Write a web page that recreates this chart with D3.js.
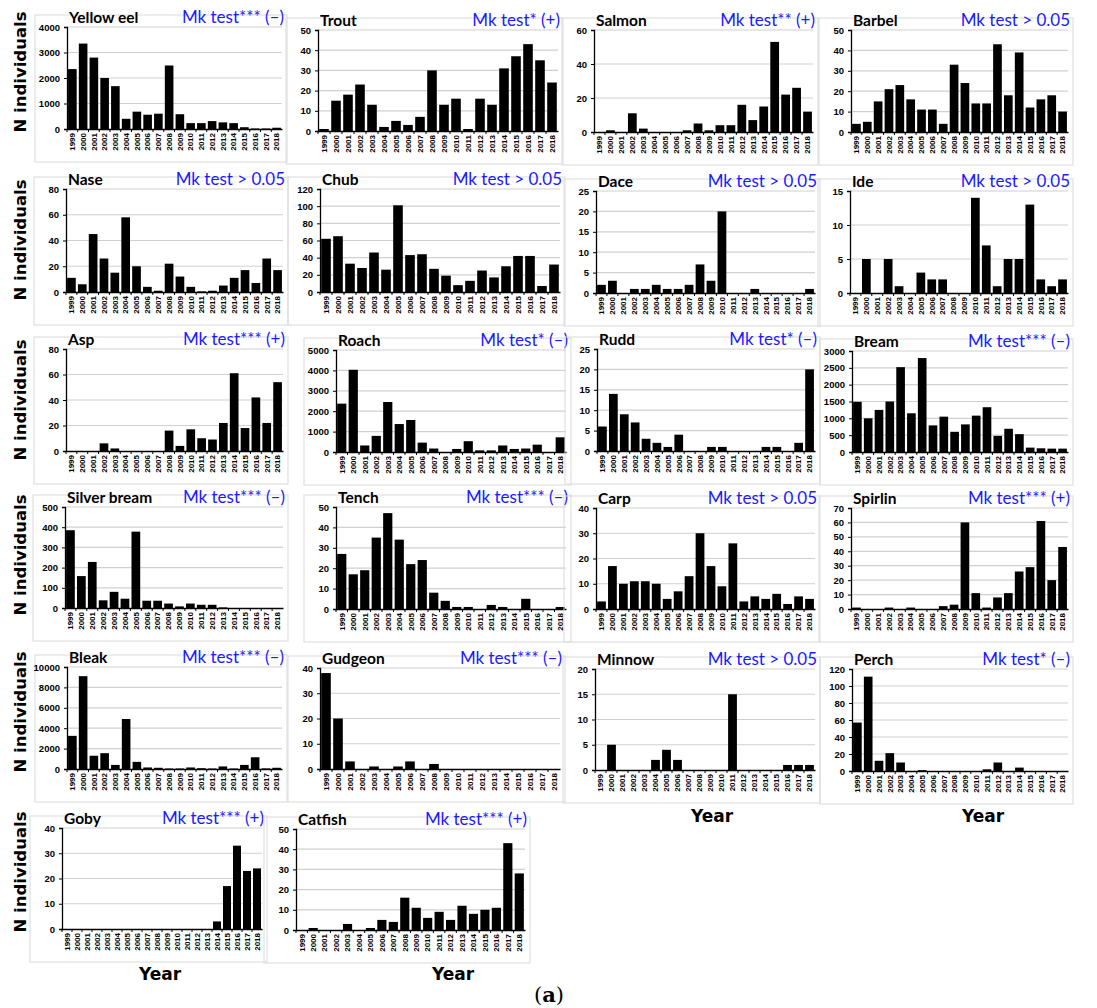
<!DOCTYPE html>
<html>
<head>
<meta charset="utf-8">
<script src="https://cdn.jsdelivr.net/npm/d3@7"></script>
<style>
  body { margin: 0; background: #fff; }
</style>
</head>
<body>
<div id="chart"></div>
<script>
// years on every x axis
const years = ['1999', '2000', '2001', '2002', '2003', '2004', '2005', '2006', '2007', '2008',
  '2009', '2010', '2011', '2012', '2013', '2014', '2015', '2016', '2017', '2018'];

// counts per species, 1999..2018
const yellowEel = [2350, 3350, 2800, 2000, 1680, 400, 680, 560, 600, 2490, 580, 230, 230, 310, 260, 230, 70, 20, 20, 50];
const trout = [1, 15, 18, 23, 13, 2, 5, 3, 7, 30, 13, 16, 1, 16, 13, 31, 37, 43, 35, 24];
const salmon = [0, 1, 0, 11, 2, 0, 0, 0, 1, 5, 1, 4, 4, 16, 7, 15, 53, 22, 26, 12];
const barbel = [4, 5, 15, 21, 23, 16, 11, 11, 4, 33, 24, 14, 14, 43, 18, 39, 12, 16, 18, 10];
const nase = [11, 6, 45, 26, 15, 58, 20, 4, 1, 22, 12, 4, 0.5, 1, 5, 11, 17, 7, 26, 17];
const chub = [62, 65, 33, 28, 46, 26, 101, 43, 44, 27, 19, 8, 13, 25, 17, 30, 42, 42, 7, 32];
const dace = [2, 3, 0, 1, 1, 2, 1, 1, 2, 7, 3, 20, 0, 0, 1, 0, 0, 0, 0, 1];
const ide = [0, 5, 0, 5, 1, 0, 3, 2, 2, 0, 0, 14, 7, 1, 5, 5, 13, 2, 1, 2];
const asp = [0, 0, 0, 6, 2, 0, 0, 0, 0, 16, 4, 17, 10, 9, 22, 61, 18, 42, 22, 54];
const roach = [2370, 4030, 320, 790, 2450, 1370, 1570, 460, 170, 0, 150, 530, 80, 80, 320, 150, 170, 360, 0, 720];
const rudd = [6, 14, 9, 7, 3, 2, 1, 4, 0, 0, 1, 1, 0, 0, 0, 1, 1, 0, 2, 20];
const bream = [1490, 1000, 1250, 1500, 2520, 1150, 2790, 790, 1050, 600, 820, 1080, 1330, 480, 690, 530, 130, 110, 100, 100];
const silverBream = [385, 158, 228, 38, 80, 46, 378, 36, 36, 22, 8, 22, 16, 16, 3, 0, 0, 0, 0, 0];
const tench = [27, 17, 19, 35, 47, 34, 22, 24, 8, 4, 1, 1, 0, 2, 1, 0, 5, 0, 0, 1];
const carp = [3, 17, 10, 11, 11, 10, 4, 7, 13, 30, 17, 9, 26, 3, 5, 4, 6, 2, 5, 4];
const spirlin = [1, 0, 0, 1, 0, 1, 0, 0, 2, 3, 60, 11, 1, 8, 11, 26, 29, 61, 20, 43];
const bleak = [3250, 9100, 1300, 1550, 400, 4900, 700, 150, 120, 50, 50, 150, 80, 50, 250, 50, 400, 1150, 60, 120];
const gudgeon = [38, 20, 3, 0, 1, 0, 1, 3, 0, 2, 0, 0, 0, 0, 0, 0, 0, 0, 0, 0];
const minnow = [0, 5, 0, 0, 0, 2, 4, 2, 0, 0, 0, 0, 15, 0, 0, 0, 0, 1, 1, 1];
const perch = [57, 111, 12, 21, 10, 0, 1, 0, 0, 0, 0, 0, 2, 10, 0, 4, 0, 0, 0, 0];
const goby = [0, 0, 0, 0, 0, 0, 0, 0, 0, 0, 0, 0, 0, 0, 0, 3, 17, 33, 23, 24];
const catfish = [0, 1, 0, 0, 3, 0, 1, 5, 4, 16, 11, 6, 9, 5, 12, 8, 10, 11, 43, 28];

const speciesNames = ['Yellow eel', 'Trout', 'Salmon', 'Barbel', 'Nase', 'Chub', 'Dace', 'Ide',
  'Asp', 'Roach', 'Rudd', 'Bream', 'Silver bream', 'Tench', 'Carp', 'Spirlin',
  'Bleak', 'Gudgeon', 'Minnow', 'Perch', 'Goby', 'Catfish'];
const speciesCounts = [yellowEel, trout, salmon, barbel, nase, chub, dace, ide,
  asp, roach, rudd, bream, silverBream, tench, carp, spirlin,
  bleak, gudgeon, minnow, perch, goby, catfish];
const mkTests = ['Mk test*** (–)', 'Mk test* (+)', 'Mk test** (+)', 'Mk test > 0.05',
  'Mk test > 0.05', 'Mk test > 0.05', 'Mk test > 0.05', 'Mk test > 0.05',
  'Mk test*** (+)', 'Mk test* (–)', 'Mk test* (–)', 'Mk test*** (–)',
  'Mk test*** (–)', 'Mk test*** (–)', 'Mk test > 0.05', 'Mk test*** (+)',
  'Mk test*** (–)', 'Mk test*** (–)', 'Mk test > 0.05', 'Mk test* (–)',
  'Mk test*** (+)', 'Mk test*** (+)'];
// y axis top value and tick step
const yMax = [4000, 50, 60, 50, 80, 120, 25, 15, 80, 5000, 25, 3000, 500, 50, 40, 70, 10000, 40, 20, 120, 40, 50];
const yStep = [1000, 10, 20, 10, 20, 20, 5, 5, 20, 1000, 5, 500, 100, 10, 10, 10, 2000, 10, 5, 20, 10, 10];

// plot area of each panel: left, right, top, bottom (px)
const panels = [
  [67, 282, 27, 129], [318, 558, 30, 131], [594, 813, 30, 132], [851, 1068, 30, 132],
  [66, 283, 189, 292], [320, 560, 189, 292], [596, 815, 191, 293], [850, 1068, 191, 293],
  [66, 283, 349, 451], [336, 566, 350, 452], [597, 815, 349, 451], [852, 1068, 351, 452],
  [65, 283, 507, 608], [336, 566, 507, 609], [596, 815, 508, 609], [851, 1068, 508, 609],
  [67, 282, 667, 769], [320, 560, 668, 769], [595, 815, 669, 770], [852, 1068, 669, 771],
  [62, 262, 828, 929], [296, 525, 829, 930]
];
const rowLabelY = [72, 240, 400, 555, 712, 872];
const yearLabels = [[712, 822], [983, 822], [160, 980], [453, 980]];

const width = 1097;
const height = 1008;

const svg = d3.select('#chart')
  .append('svg')
  .attr('width', width)
  .attr('height', height)
  .attr('viewBox', `0 0 ${width} ${height}`);

speciesNames.forEach((name, i) => {
  const [x0, x1, yTop, yBot] = panels[i];
  const data = speciesCounts[i];
  const g = svg.append('g');

  // panel frame
  g.append('rect')
    .attr('x', x0 - 32)
    .attr('y', yTop - 12)
    .attr('width', x1 - x0 + 37)
    .attr('height', yBot - yTop + 45)
    .attr('fill', 'none')
    .attr('stroke', '#d9d9d9')
    .attr('stroke-width', 1);

  const x = d3.scaleBand()
    .domain(years)
    .range([x0, x1])
    .paddingInner(0.2)
    .paddingOuter(0.1);

  const y = d3.scaleLinear()
    .domain([0, yMax[i]])
    .range([yBot, yTop]);

  const ticks = d3.range(0, yMax[i] + yStep[i] / 2, yStep[i]);

  // gridlines
  g.append('g')
    .selectAll('line')
    .data(ticks.slice(1))
    .join('line')
    .attr('x1', x0)
    .attr('x2', x1)
    .attr('y1', d => y(d))
    .attr('y2', d => y(d))
    .attr('stroke', '#d0d0d0')
    .attr('stroke-width', 1.2);

  // bars
  g.append('g')
    .selectAll('rect')
    .data(data)
    .join('rect')
    .attr('x', (d, j) => x(years[j]))
    .attr('width', x.bandwidth())
    .attr('y', d => y(d))
    .attr('height', d => yBot - y(d))
    .attr('fill', '#000');

  // y axis
  g.append('g')
    .attr('transform', `translate(${x0},0)`)
    .call(d3.axisLeft(y).tickValues(ticks).tickSize(3).tickPadding(4).tickFormat(d3.format('d')))
    .call(a => a.select('.domain').attr('stroke', '#000').attr('stroke-width', 1.3))
    .call(a => a.selectAll('.tick line').attr('stroke', '#000'))
    .call(a => a.selectAll('text')
      .attr('font-family', 'Liberation Sans, Arial, sans-serif')
      .attr('font-weight', 'bold')
      .attr('font-size', 9.5)
      .attr('fill', '#000'));

  // x axis
  const xa = g.append('g')
    .attr('transform', `translate(0,${yBot})`)
    .call(d3.axisBottom(x).tickSize(0).tickPadding(0))
    .call(a => a.select('.domain').attr('stroke', '#000').attr('stroke-width', 1.3))
    .call(a => a.selectAll('text')
      .attr('transform', 'rotate(-90)')
      .attr('x', -4)
      .attr('y', 0)
      .attr('dy', '0.35em')
      .attr('text-anchor', 'end')
      .attr('font-family', 'Liberation Sans, Arial, sans-serif')
      .attr('font-weight', 'bold')
      .attr('font-size', 8)
      .attr('fill', '#000'));

  // small boundary ticks between years
  xa.append('g')
    .selectAll('line')
    .data(years)
    .join('line')
    .attr('x1', d => x(d) - x.step() * x.paddingInner() / 2)
    .attr('x2', d => x(d) - x.step() * x.paddingInner() / 2)
    .attr('y1', 0)
    .attr('y2', 3)
    .attr('stroke', '#000');

  // species name
  g.append('text')
    .attr('x', x0 + 2)
    .attr('y', yTop - 4)
    .attr('font-family', 'Lato, sans-serif')
    .attr('font-weight', 'bold')
    .attr('font-size', 15.5)
    .attr('fill', '#000')
    .text(name);

  // Mann-Kendall label
  g.append('text')
    .attr('x', x1 + 2)
    .attr('y', yTop - 4)
    .attr('text-anchor', 'end')
    .attr('font-family', 'Lato, sans-serif')
    .attr('font-size', 17)
    .attr('fill', '#1a1aff')
    .text(mkTests[i]);
});

// row labels
svg.selectAll('.ylab')
  .data(rowLabelY)
  .join('text')
  .attr('class', 'ylab')
  .attr('transform', d => `translate(26,${d}) rotate(-90)`)
  .attr('text-anchor', 'middle')
  .attr('font-family', 'DejaVu Sans, sans-serif')
  .attr('font-weight', 'bold')
  .attr('font-size', 16.5)
  .attr('fill', '#000')
  .text('N individuals');

svg.selectAll('.xlab')
  .data(yearLabels)
  .join('text')
  .attr('class', 'xlab')
  .attr('x', d => d[0])
  .attr('y', d => d[1])
  .attr('text-anchor', 'middle')
  .attr('font-family', 'DejaVu Sans, sans-serif')
  .attr('font-weight', 'bold')
  .attr('font-size', 17)
  .attr('fill', '#000')
  .text('Year');

const tag = svg.append('text')
  .attr('x', 549)
  .attr('y', 1002)
  .attr('text-anchor', 'middle')
  .attr('font-family', 'DejaVu Serif, serif')
  .attr('font-size', 21)
  .attr('fill', '#000');
tag.append('tspan').text('(');
tag.append('tspan').attr('font-weight', 'bold').text('a');
tag.append('tspan').text(')');
</script>
</body>
</html>
